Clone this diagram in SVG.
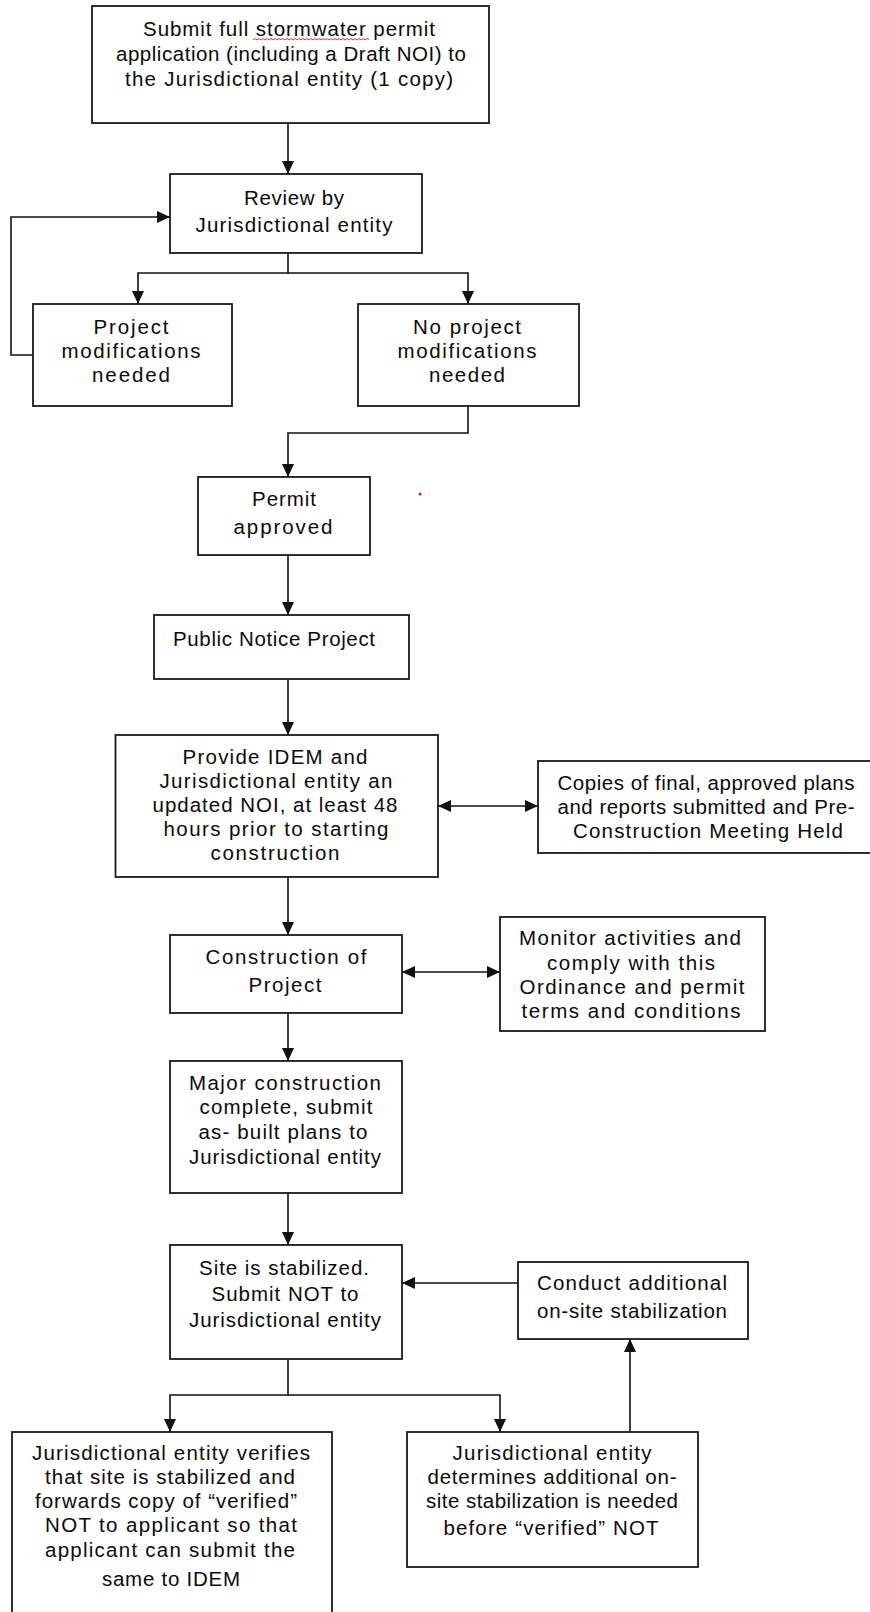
<svg xmlns="http://www.w3.org/2000/svg" width="870" height="1612" viewBox="0 0 870 1612">
<style>
.box{fill:#fff;stroke:#1a1a1a;stroke-width:1.8}
.t{font-family:"Liberation Sans",Arial,sans-serif;font-size:20.5px;fill:#0a0a0a;text-anchor:middle}
.c{fill:none;stroke:#111;stroke-width:1.6}
</style>
<defs>
<marker id="ah" markerUnits="userSpaceOnUse" markerWidth="14" markerHeight="13" refX="13" refY="6" orient="auto-start-reverse">
<path d="M0,0 L13,6 L0,12 z" fill="#111"/>
</marker>
</defs>
<rect width="870" height="1612" fill="#fff"/>
<g id="connectors">
<path class="c" d="M288,123 V174" marker-end="url(#ah)"/>
<path class="c" d="M288,253 V273 H138 V304" marker-end="url(#ah)"/>
<path class="c" d="M288,273 H468 V304" marker-end="url(#ah)"/>
<path class="c" d="M33,355 H11 V217 H170" marker-end="url(#ah)"/>
<path class="c" d="M468,406 V433 H288 V477" marker-end="url(#ah)"/>
<path class="c" d="M288,555 V615" marker-end="url(#ah)"/>
<path class="c" d="M288,679 V735" marker-end="url(#ah)"/>
<path class="c" d="M438,806 H538" marker-start="url(#ah)" marker-end="url(#ah)"/>
<path class="c" d="M288,877 V935" marker-end="url(#ah)"/>
<path class="c" d="M402,972 H500" marker-start="url(#ah)" marker-end="url(#ah)"/>
<path class="c" d="M288,1013 V1061" marker-end="url(#ah)"/>
<path class="c" d="M288,1193 V1245" marker-end="url(#ah)"/>
<path class="c" d="M518,1283 H402" marker-end="url(#ah)"/>
<path class="c" d="M630,1432 V1339" marker-end="url(#ah)"/>
<path class="c" d="M288,1359 V1395 H170 V1432" marker-end="url(#ah)"/>
<path class="c" d="M288,1395 H500 V1432" marker-end="url(#ah)"/>
</g>
<g id="n-submit">
<rect class="box" x="92" y="6" width="397" height="117"/>
<text class="t" x="289" y="36" textLength="292">Submit full stormwater permit</text>
<text class="t" x="291" y="61" textLength="350">application (including a Draft NOI) to</text>
<text class="t" x="289" y="86" textLength="328">the Jurisdictional entity (1 copy)</text>
<path d="M253,40 l2,-1.5 2,1.5 2,-1.5 2,1.5 2,-1.5 2,1.5 2,-1.5 2,1.5 2,-1.5 2,1.5 2,-1.5 2,1.5 2,-1.5 2,1.5 2,-1.5 2,1.5 2,-1.5 2,1.5 2,-1.5 2,1.5 2,-1.5 2,1.5 2,-1.5 2,1.5 2,-1.5 2,1.5 2,-1.5 2,1.5 2,-1.5 2,1.5 2,-1.5 2,1.5 2,-1.5 2,1.5 2,-1.5 2,1.5 2,-1.5 2,1.5 2,-1.5 2,1.5 2,-1.5 2,1.5 2,-1.5 2,1.5 2,-1.5 2,1.5 2,-1.5 2,1.5 2,-1.5 2,1.5 2,-1.5 2,1.5 2,-1.5 2,1.5 2,-1.5 2,1.5 2,-1.5 2,1.5" fill="none" stroke="#e03030" stroke-width="1"/>
</g>
<g id="n-review">
<rect class="box" x="170" y="174" width="252" height="79"/>
<text class="t" x="294" y="205" textLength="100">Review by</text>
<text class="t" x="294" y="232" textLength="197">Jurisdictional entity</text>
</g>
<g id="n-mods">
<rect class="box" x="33" y="304" width="199" height="102"/>
<text class="t" x="131" y="334" textLength="75">Project</text>
<text class="t" x="131" y="358" textLength="139">modifications</text>
<text class="t" x="131" y="382" textLength="78">needed</text>
</g>
<g id="n-nomods">
<rect class="box" x="358" y="304" width="221" height="102"/>
<text class="t" x="467" y="334" textLength="108">No project</text>
<text class="t" x="467" y="358" textLength="139">modifications</text>
<text class="t" x="467" y="382" textLength="76">needed</text>
</g>
<g id="n-permit">
<rect class="box" x="198" y="477" width="172" height="78"/>
<text class="t" x="284" y="506" textLength="64">Permit</text>
<text class="t" x="283" y="534" textLength="99">approved</text>
</g>
<circle cx="420" cy="494" r="1.5" fill="#e02020"/>
<g id="n-public">
<rect class="box" x="154" y="615" width="255" height="64"/>
<text class="t" x="274" y="646" textLength="202">Public Notice Project</text>
</g>
<g id="n-provide">
<rect class="box" x="115.5" y="735" width="322.5" height="142"/>
<text class="t" x="275" y="764" textLength="185">Provide IDEM and</text>
<text class="t" x="276" y="788" textLength="233">Jurisdictional entity an</text>
<text class="t" x="275" y="812" textLength="245">updated NOI, at least 48</text>
<text class="t" x="276" y="836" textLength="225">hours prior to starting</text>
<text class="t" x="275" y="860" textLength="129">construction</text>
</g>
<g id="n-copies">
<rect class="box" x="538" y="761" width="340" height="92"/>
<text class="t" x="706" y="790" textLength="297">Copies of final, approved plans</text>
<text class="t" x="706" y="814" textLength="297">and reports submitted and Pre-</text>
<text class="t" x="708" y="838" textLength="270">Construction Meeting Held</text>
</g>
<g id="n-construction">
<rect class="box" x="170" y="935" width="232" height="78"/>
<text class="t" x="286" y="964" textLength="161">Construction of</text>
<text class="t" x="285" y="992" textLength="73">Project</text>
</g>
<g id="n-monitor">
<rect class="box" x="500" y="917" width="265" height="114"/>
<text class="t" x="630" y="945" textLength="222">Monitor activities and</text>
<text class="t" x="631" y="970" textLength="168">comply with this</text>
<text class="t" x="632" y="994" textLength="225">Ordinance and permit</text>
<text class="t" x="631" y="1018" textLength="219">terms and conditions</text>
</g>
<g id="n-major">
<rect class="box" x="170" y="1061" width="232" height="132"/>
<text class="t" x="285" y="1090" textLength="192">Major construction</text>
<text class="t" x="286" y="1114" textLength="173">complete, submit</text>
<text class="t" x="283" y="1139" textLength="169">as- built plans to</text>
<text class="t" x="285" y="1164" textLength="192">Jurisdictional entity</text>
</g>
<g id="n-site">
<rect class="box" x="170" y="1245" width="232" height="114"/>
<text class="t" x="284" y="1275" textLength="170">Site is stabilized.</text>
<text class="t" x="285" y="1301" textLength="147">Submit NOT to</text>
<text class="t" x="285" y="1327" textLength="192">Jurisdictional entity</text>
</g>
<g id="n-conduct">
<rect class="box" x="518" y="1262" width="230" height="77"/>
<text class="t" x="632" y="1290" textLength="190">Conduct additional</text>
<text class="t" x="632" y="1318" textLength="190">on-site stabilization</text>
</g>
<g id="n-verifies">
<rect class="box" x="12" y="1432" width="320" height="200"/>
<text class="t" x="171" y="1460" textLength="278">Jurisdictional entity verifies</text>
<text class="t" x="170" y="1484" textLength="250">that site is stabilized and</text>
<text class="t" x="166" y="1508" textLength="262">forwards copy of “verified”</text>
<text class="t" x="171" y="1532" textLength="252">NOT to applicant so that</text>
<text class="t" x="170" y="1557" textLength="250">applicant can submit the</text>
<text class="t" x="171" y="1586" textLength="138">same to IDEM</text>
</g>
<g id="n-determines">
<rect class="box" x="407" y="1432" width="291" height="135"/>
<text class="t" x="552" y="1460" textLength="199">Jurisdictional entity</text>
<text class="t" x="552" y="1484" textLength="249">determines additional on-</text>
<text class="t" x="552" y="1508" textLength="252">site stabilization is needed</text>
<text class="t" x="551" y="1535" textLength="215">before “verified” NOT</text>
</g>
</svg>
